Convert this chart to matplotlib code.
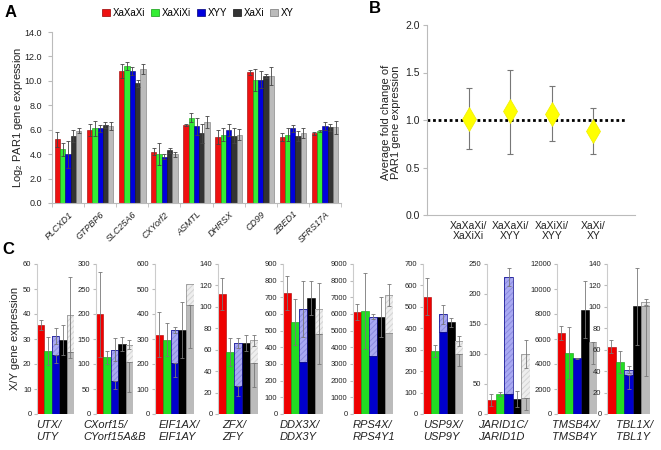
import matplotlib
matplotlib.use('Agg')
import matplotlib.pyplot as plt
import numpy as np
from matplotlib.patches import Patch

plt.rcParams['font.family'] = ['Liberation Sans', 'DejaVu Sans']
plt.rcParams['mathtext.default'] = 'regular'
plt.rcParams['hatch.linewidth'] = 0.7

# ---------------- Panel A data ----------------
a_genes = ['PLCXD1', 'GTPBP6', 'SLC25A6', 'CXYorf2', 'ASMTL', 'DHRSX', 'CD99', 'ZBED1', 'SFRS17A']
a_groups = ['XaXaXi', 'XaXiXi', 'XYY', 'XaXi', 'XY']
a_xaxaxi = [5.2, 6.0, 10.8, 4.2, 6.4, 5.4, 10.7, 5.4, 5.7]
a_xaxaxi_err = [0.6, 0.5, 0.6, 0.3, 0.1, 0.6, 0.2, 0.3, 0.15]
a_xaxixi = [4.4, 6.1, 11.2, 4.0, 7.0, 5.6, 10.1, 5.6, 5.9]
a_xaxixi_err = [0.55, 0.65, 0.35, 0.9, 0.35, 0.5, 0.9, 0.5, 0.1]
a_xyy = [4.0, 6.1, 10.8, 3.8, 6.3, 6.0, 10.1, 6.1, 6.3]
a_xyy_err = [1.1, 0.3, 0.3, 0.2, 0.7, 0.5, 0.7, 0.3, 0.3]
a_xaxi = [5.5, 6.4, 9.8, 4.3, 5.7, 5.5, 10.4, 5.5, 6.2]
a_xaxi_err = [0.5, 0.25, 0.3, 0.2, 0.8, 0.6, 0.2, 0.4, 0.3]
a_xy = [5.9, 6.3, 11.0, 4.0, 6.6, 5.6, 10.4, 5.7, 6.2]
a_xy_err = [0.2, 0.35, 0.4, 0.2, 0.5, 0.45, 0.7, 0.4, 0.55]

# ---------------- Panel B data ----------------
b_labels = ['XaXaXi/\nXaXiXi', 'XaXaXi/\nXYY', 'XaXiXi/\nXYY', 'XaXi/\nXY']
b_vals = [1.01, 1.09, 1.06, 0.88]
b_low = [0.69, 0.64, 0.775, 0.64]
b_high = [1.34, 1.53, 1.355, 1.125]

# ---------------- Panel C data ----------------
c_genes = ['UTX/\nUTY', 'CXorf15/\nCYorf15A&B', 'EIF1AX/\nEIF1AY', 'ZFX/\nZFY', 'DDX3X/\nDDX3Y',
           'RPS4X/\nRPS4Y1', 'USP9X/\nUSP9Y', 'JARID1C/\nJARID1D', 'TMSB4X/\nTMSB4Y', 'TBL1X/\nTBL1Y']
c_ymax = [60, 300, 600, 140, 900, 9000, 700, 250, 12000, 140]
c_ystep = [10, 50, 100, 20, 100, 1000, 100, 50, 2000, 20]
c_red = [35.5, 200, 318, 112, 728, 6130, 548, 23, 6500, 63]
c_red_err = [2, 85, 90, 15, 102, 500, 86, 10, 570, 6]
c_green = [25.3, 114, 297, 58, 553, 6180, 294, 33, 4870, 48.5]
c_green_err = [5.7, 13, 66, 13, 137, 2280, 28, 3, 2100, 10]
c_blue_y = [23.5, 66, 205, 26.5, 313, 3480, 384, 33, 4500, 36.5]
c_blue_y_err = [3, 15, 55, 10, 0, 0, 0, 0, 100, 13]
c_blue_tot = [31.2, 129, 338, 66.5, 632, 5850, 465, 228, 4500, 41.5]
c_blue_tot_err = [3.3, 23, 12, 4.5, 168, 150, 44, 15, 0, 3.5]
c_black = [29.7, 140, 337, 66.5, 697, 5830, 428, 25, 8350, 100.5]
c_black_err = [6, 14, 111, 7.5, 102, 1200, 20, 13, 2300, 36]
c_gray_y = [25, 104, 437, 47.8, 480, 4850, 278, 27, 5800, 100.5]
c_gray_y_err = [2.6, 60, 173, 23, 180, 0, 54, 21, 1800, 65]
c_gray_tot = [39.7, 139, 522, 68.7, 632, 7150, 340, 100, 5800, 104.5]
c_gray_tot_err = [15, 9, 0, 5, 154, 650, 24, 24, 0, 3]

# ---------------- layout ----------------
W, H = 661, 450
fig = plt.figure(figsize=(W / 100, H / 100), dpi=100)


def ax_px(x0, y0, x1, y1):
    return fig.add_axes([x0 / W, 1 - y1 / H, (x1 - x0) / W, (y1 - y0) / H])


SPINE = '#BBBBBB'
TXT = '#222222'

# ---------------- Panel A ----------------
axA = ax_px(52, 32, 341, 203)
xa = np.arange(len(a_genes))
a_series = [(a_xaxaxi, a_xaxaxi_err), (a_xaxixi, a_xaxixi_err), (a_xyy, a_xyy_err),
            (a_xaxi, a_xaxi_err), (a_xy, a_xy_err)]
colA = ['#EE1111', '#33EE33', '#0000DD', '#333333', '#BBBBBB']
edgA = ['#990000', '#119911', '#000077', '#111111', '#777777']
bw = 0.166
for j, (v, e) in enumerate(a_series):
    axA.bar(xa + (j - 2) * bw, v, bw, color=colA[j], edgecolor=edgA[j], lw=0.4,
            yerr=e, error_kw=dict(ecolor='#444444', elinewidth=0.6, capsize=1.5, capthick=0.6))
axA.set_xlim(-0.5, 8.5)
axA.set_ylim(0, 14)
yt = np.arange(0, 14.1, 2)
axA.set_yticks(yt)
axA.set_yticklabels([f'{v:.1f}' for v in yt], fontsize=6.5, color=TXT)
axA.set_xticks(xa)
axA.set_xticklabels(a_genes, rotation=45, ha='right', va='top', rotation_mode='anchor',
                    fontsize=6.5, style='italic', color=TXT)
axA.tick_params(axis='x', which='major', length=0, pad=5)
axA.set_xticks(np.arange(-0.5, 9, 1), minor=True)
axA.tick_params(axis='x', which='minor', length=3, color=SPINE)
axA.tick_params(axis='y', length=3, color=SPINE, pad=4)
for s in ['top', 'right']:
    axA.spines[s].set_visible(False)
for s in ['left', 'bottom']:
    axA.spines[s].set_color(SPINE)
fig.text(18 / W, 1 - 117 / H, r'Log$_2$ PAR1 gene expression', rotation=90,
         ha='center', va='center', fontsize=8, color=TXT)
handles = [Patch(facecolor=colA[j], edgecolor=edgA[j], lw=0.5) for j in range(5)]
fig.legend(handles, a_groups, loc='center', bbox_to_anchor=(198 / W, 1 - 13 / H), ncol=5,
           fontsize=7, frameon=False, handlelength=0.8, handleheight=0.8,
           handletextpad=0.3, columnspacing=0.6, borderpad=0)
fig.text(5 / W, 1 - 5 / H, 'A', fontsize=12, fontweight='bold', va='top', ha='left')

# ---------------- Panel B ----------------
axB = ax_px(427, 25, 635, 215)
xb = np.arange(1, len(b_vals) + 1)
lo = np.array(b_vals) - np.array(b_low)
hi = np.array(b_high) - np.array(b_vals)
axB.plot([0, 4.75], [1, 1], color='black', lw=2, ls=(0, (1, 1)), zorder=2)
axB.errorbar(xb, b_vals, yerr=[lo, hi], fmt='none', ecolor='#777777', elinewidth=0.8,
             capsize=2, capthick=0.8, zorder=3)
axB.plot(xb, b_vals, 'd', ms=12.5, color='#FFFF00', mec='#EEEE00', mew=0.5, zorder=4)
axB.set_xlim(0, 5)
axB.set_ylim(0, 2)
ybt = np.arange(0, 2.01, 0.5)
axB.set_yticks(ybt)
axB.set_yticklabels([f'{v:.1f}' for v in ybt], fontsize=7.5, color=TXT)
axB.set_xticks(xb)
axB.set_xticklabels(b_labels, fontsize=7.5, color=TXT, linespacing=1.1)
axB.tick_params(axis='x', length=0, pad=4)
axB.tick_params(axis='y', length=3, color=SPINE, pad=2)
for s in ['top', 'right']:
    axB.spines[s].set_visible(False)
for s in ['left', 'bottom']:
    axB.spines[s].set_color(SPINE)
fig.text(391 / W, 1 - 122 / H, 'Average fold change of\nPAR1 gene expression', rotation=90,
         ha='center', va='center', fontsize=8, color=TXT, linespacing=1.1)
fig.text(369 / W, 1 - 1 / H, 'B', fontsize=12, fontweight='bold', va='top', ha='left')

# ---------------- Panel C ----------------
c_left = [37, 96, 155, 218, 283, 353, 423, 487, 557, 607]
c_right = [74, 133, 194, 258, 323, 393, 463, 530, 597, 650]
c_label_x = [36, 83, 159, 222, 280, 353, 423, 478, 552, 616]
colC = ['#EE0000', '#22DD22', '#0000CC', '#000000', '#BBBBBB']
edgC = ['#AA0000', '#119911', '#000088', '#000000', '#888888']
ekw = dict(fmt='none', ecolor='#777777', elinewidth=0.6, capsize=1.5, capthick=0.6, zorder=5)

for i in range(len(c_genes)):
    ax = ax_px(c_left[i], 264, c_right[i], 414)
    # red, green, black
    for xpos, v, e, k in [(0, c_red[i], c_red_err[i], 0), (1, c_green[i], c_green_err[i], 1),
                          (3, c_black[i], c_black_err[i], 3)]:
        ax.bar(xpos, v, 1, color=colC[k], edgecolor=edgC[k], lw=0.4, zorder=2)
        ax.errorbar(xpos, v, yerr=e, **ekw)
    # stacked blue and gray
    for xpos, ys, yse, yt_, yte, k, hcol, hedge in [
            (2, c_blue_y[i], c_blue_y_err[i], c_blue_tot[i], c_blue_tot_err[i], 2, '#A9A9F2', '#8C8CE0'),
            (4, c_gray_y[i], c_gray_y_err[i], c_gray_tot[i], c_gray_tot_err[i], 4, '#EEEEEE', '#D4D4D4')]:
        ax.bar(xpos, ys, 1, color=colC[k], edgecolor=edgC[k], lw=0.4, zorder=2)
        if yse > 0:
            ax.errorbar(xpos, ys, yerr=[[yse], [0]], **ekw)
        if yt_ > ys:
            ax.bar(xpos, yt_ - ys, 1, bottom=ys, color=hcol, edgecolor=hedge, hatch='//////',
                   lw=0, zorder=3)
            ax.bar(xpos, yt_ - ys, 1, bottom=ys, fill=False, edgecolor=edgC[k], lw=0.5, zorder=3.5)
            if yte > 0:
                ax.errorbar(xpos, yt_, yerr=yte, **ekw)
    ax.set_xlim(-0.5, 4.5)
    ax.set_ylim(0, c_ymax[i])
    t = np.arange(0, c_ymax[i] + 0.1, c_ystep[i])
    ax.set_yticks(t)
    ax.set_yticklabels([f'{int(v)}' for v in t], fontsize=5.5, color=TXT)
    ax.set_xticks([])
    ax.tick_params(axis='y', length=2, color=SPINE, pad=2)
    for s in ['top', 'right', 'bottom']:
        ax.spines[s].set_visible(False)
    ax.spines['left'].set_color('#CCCCCC')
    fig.text(c_label_x[i] / W, 1 - 420 / H, c_genes[i], ha='left', va='top', fontsize=8,
             style='italic', color=TXT, linespacing=1.25)

fig.text(15 / W, 1 - 338 / H, 'X/Y gene expression', rotation=90, ha='center', va='center',
         fontsize=8, color=TXT)
fig.text(2 / W, 1 - 242 / H, 'C', fontsize=12, fontweight='bold', va='top', ha='left')

fig.savefig('out.png', dpi=100)
